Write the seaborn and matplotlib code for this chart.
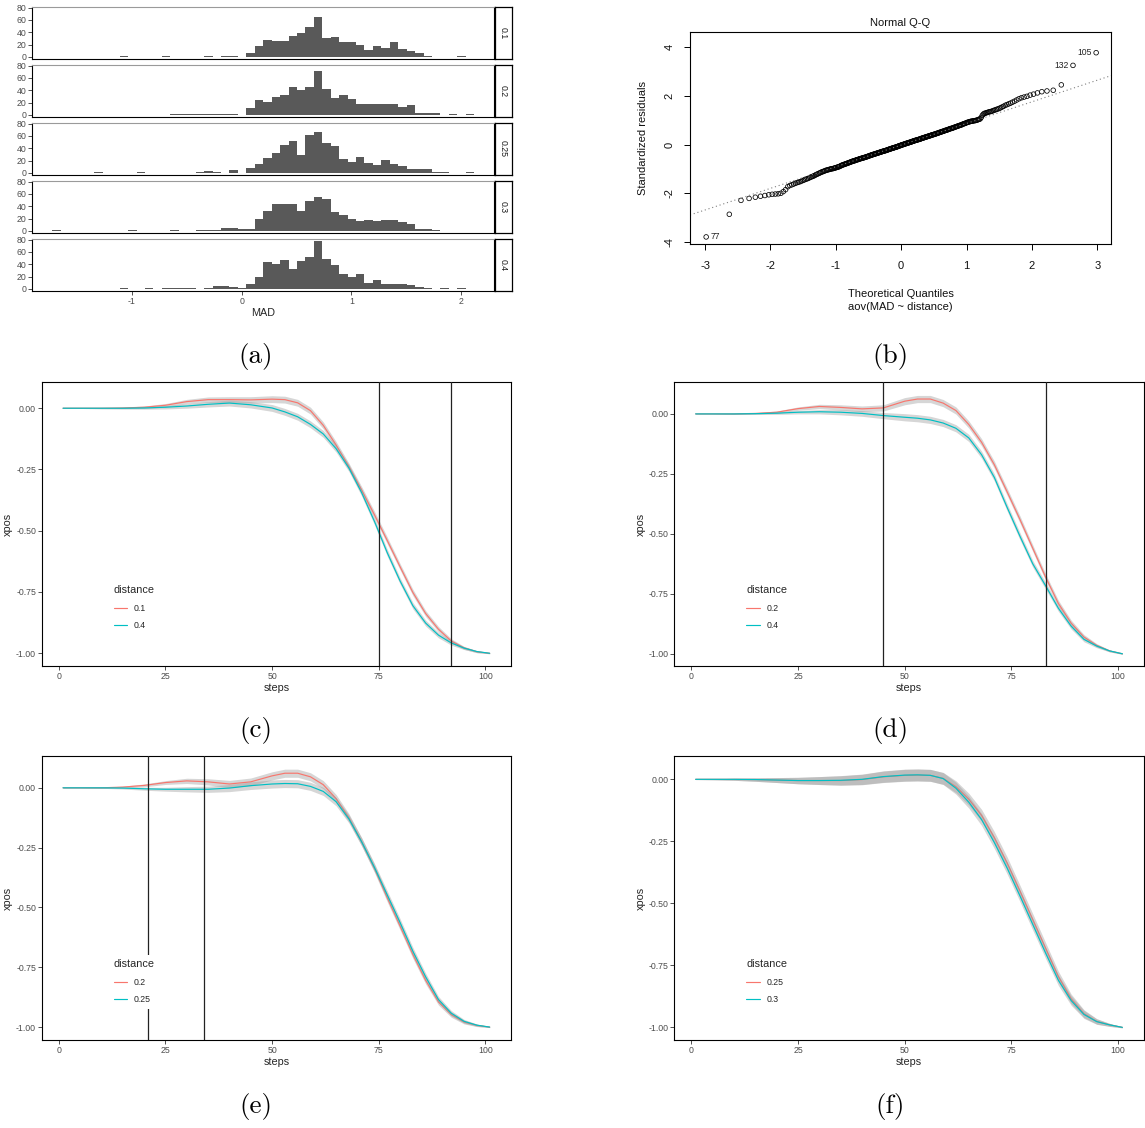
"""
Composite figure: MAD histograms per distance, normal Q-Q of the aov residuals,
and smoothed xpos trajectories for four pairs of distances.
"""
import statistics

import numpy as np
import pandas as pd
import matplotlib
matplotlib.use("Agg")
import matplotlib.pyplot as plt
import seaborn as sns

sns.set_theme(style="white")
plt.rcParams["font.family"] = ["Liberation Sans", "DejaVu Sans"]
plt.rcParams["axes.unicode_minus"] = False

# ==============================================================
# DATA
# ==============================================================
# (a) histogram counts, bins are BIN_W wide, bin index -23 .. 26
BIN_START = 0.043
BIN_W = 0.0769
BIN_IDX = list(range(-23, 27))
DISTANCES = ["0.1", "0.2", "0.25", "0.3", "0.4"]
COUNTS_D01 = [0, 0, 0, 0, 0, 0, 0, 0, 1, 0, 0, 0, 0, 1, 0, 0, 0, 0, 2, 0, 2, 2, 0,
              6, 17, 27, 26, 26, 34, 39, 49, 64, 31, 32, 24, 24, 20, 11, 18, 14, 24,
              12, 10, 7, 2, 0, 0, 0, 1, 0]
COUNTS_D02 = [0, 0, 0, 0, 0, 0, 0, 0, 0, 0, 0, 0, 0, 0, 1, 2, 1, 1, 2, 2, 1, 1, 0,
              11, 24, 21, 29, 33, 46, 40, 46, 71, 42, 27, 32, 26, 17, 18, 18, 17, 17,
              13, 16, 3, 3, 3, 0, 2, 0, 1]
COUNTS_D025 = [0, 0, 0, 0, 0, 1, 0, 0, 0, 0, 1, 0, 0, 0, 0, 0, 0, 2, 3, 2, 0, 5, 0,
               8, 15, 24, 33, 45, 51, 29, 62, 67, 49, 44, 23, 17, 25, 16, 12, 21, 14,
               11, 7, 7, 7, 1, 2, 0, 0, 1]
COUNTS_D03 = [1, 0, 0, 0, 0, 0, 0, 0, 0, 1, 0, 0, 0, 0, 1, 0, 0, 2, 2, 1, 4, 5, 3,
              3, 20, 32, 44, 43, 44, 32, 49, 55, 52, 30, 26, 20, 16, 18, 16, 17, 17,
              14, 11, 3, 3, 2, 0, 0, 0, 0]
COUNTS_D04 = [0, 0, 0, 0, 0, 0, 0, 0, 1, 0, 0, 1, 0, 1, 1, 1, 1, 0, 1, 5, 5, 3, 2,
              8, 19, 43, 41, 47, 33, 45, 51, 77, 48, 38, 24, 19, 24, 9, 15, 8, 8,
              8, 6, 3, 2, 0, 1, 0, 1, 0]
HIST_TICKS = [-1, 0, 1, 2]
COUNT_TICKS = [0, 20, 40, 60, 80]

# (b) sorted standardized residuals of aov(MAD ~ distance)
RESID = [
    -3.79, -2.86, -2.29, -2.21, -2.16, -2.12, -2.09, -2.06, -2.04, -2.03,
    -2.02, -2.00, -1.93, -1.85, -1.73, -1.68, -1.65, -1.62, -1.59, -1.56,
    -1.54, -1.52, -1.49, -1.47, -1.44, -1.42, -1.40, -1.38, -1.35, -1.33,
    -1.31, -1.29, -1.27, -1.24, -1.22, -1.20, -1.18, -1.16, -1.14, -1.12,
    -1.11, -1.09, -1.08, -1.06, -1.05, -1.04, -1.03, -1.02, -1.01, -1.00,
    -0.99, -0.99, -0.98, -0.97, -0.96, -0.95, -0.94, -0.93, -0.92, -0.91,
    -0.90, -0.88, -0.87, -0.85, -0.84, -0.83, -0.82, -0.81, -0.80, -0.79,
    -0.78, -0.77, -0.76, -0.75, -0.74, -0.73, -0.72, -0.71, -0.70, -0.69,
    -0.68, -0.67, -0.67, -0.66, -0.65, -0.64, -0.63, -0.62, -0.62, -0.61,
    -0.60, -0.59, -0.58, -0.58, -0.57, -0.56, -0.56, -0.55, -0.54, -0.54,
    -0.53, -0.52, -0.52, -0.51, -0.50, -0.49, -0.49, -0.48, -0.47, -0.46,
    -0.45, -0.45, -0.44, -0.43, -0.42, -0.42, -0.41, -0.40, -0.40, -0.39,
    -0.38, -0.38, -0.37, -0.36, -0.36, -0.35, -0.34, -0.34, -0.33, -0.32,
    -0.32, -0.31, -0.30, -0.30, -0.29, -0.28, -0.28, -0.27, -0.27, -0.26,
    -0.25, -0.25, -0.24, -0.24, -0.23, -0.22, -0.21, -0.21, -0.20, -0.19,
    -0.19, -0.18, -0.17, -0.17, -0.16, -0.15, -0.15, -0.14, -0.14, -0.13,
    -0.12, -0.12, -0.11, -0.11, -0.10, -0.09, -0.09, -0.08, -0.07, -0.06,
    -0.06, -0.05, -0.04, -0.04, -0.03, -0.02, -0.01, -0.01, 0.00, 0.00,
    0.01, 0.02, 0.02, 0.03, 0.04, 0.04, 0.05, 0.06, 0.06, 0.07,
    0.07, 0.08, 0.09, 0.09, 0.10, 0.10, 0.11, 0.12, 0.13, 0.13,
    0.14, 0.15, 0.15, 0.16, 0.17, 0.17, 0.18, 0.18, 0.19, 0.20,
    0.20, 0.21, 0.21, 0.22, 0.23, 0.23, 0.24, 0.25, 0.26, 0.26,
    0.27, 0.28, 0.28, 0.29, 0.30, 0.30, 0.31, 0.32, 0.32, 0.33,
    0.34, 0.34, 0.35, 0.36, 0.36, 0.37, 0.38, 0.39, 0.39, 0.40,
    0.41, 0.41, 0.42, 0.43, 0.43, 0.44, 0.45, 0.46, 0.46, 0.47,
    0.48, 0.49, 0.50, 0.50, 0.51, 0.52, 0.53, 0.54, 0.54, 0.55,
    0.56, 0.57, 0.58, 0.59, 0.59, 0.60, 0.61, 0.62, 0.63, 0.64,
    0.65, 0.66, 0.66, 0.67, 0.68, 0.69, 0.70, 0.71, 0.72, 0.73,
    0.74, 0.75, 0.76, 0.77, 0.78, 0.79, 0.80, 0.81, 0.82, 0.84,
    0.85, 0.86, 0.87, 0.88, 0.90, 0.91, 0.92, 0.93, 0.94, 0.95,
    0.96, 0.96, 0.97, 0.98, 0.98, 0.99, 1.00, 1.01, 1.03, 1.04,
    1.06, 1.12, 1.20, 1.25, 1.28, 1.29, 1.31, 1.32, 1.34, 1.35,
    1.36, 1.38, 1.40, 1.42, 1.44, 1.46, 1.48, 1.51, 1.54, 1.57,
    1.61, 1.64, 1.67, 1.70, 1.74, 1.78, 1.83, 1.88, 1.92, 1.95,
    1.98, 2.03, 2.07, 2.12, 2.17, 2.20, 2.23, 2.45, 3.25, 3.77,
]
# observation ids of the flagged points: (rank in sorted residuals, id)
QQ_FLAGS = [(0, "77"), (348, "132"), (349, "105")]
QQ_XTICKS = [-3, -2, -1, 0, 1, 2, 3]
QQ_YTICKS = [-4, -2, 0, 2, 4]

# (c)-(f) smoothed xpos per step
STEPS = [1, 5, 10, 15, 20, 25, 30, 35, 40, 45, 50, 53, 56, 59, 62, 65, 68, 71, 74,
         77, 80, 83, 86, 89, 92, 95, 98, 101]

C_D01 = [0, 0, 0, 0.001, 0.004, 0.012, 0.027, 0.035, 0.035, 0.034, 0.037, 0.035, 0.022,
         -0.01, -0.07, -0.15, -0.238, -0.334, -0.435, -0.54, -0.647, -0.752, -0.838,
         -0.902, -0.95, -0.978, -0.994, -1.0]
C_D04 = [0, 0, 0, 0, 0.001, 0.004, 0.009, 0.016, 0.021, 0.014, 0.001, -0.015, -0.035,
         -0.066, -0.105, -0.165, -0.244, -0.345, -0.462, -0.59, -0.705, -0.806, -0.877,
         -0.926, -0.958, -0.979, -0.993, -1.0]
C_BAND = [0.001, 0.001, 0.002, 0.003, 0.005, 0.007, 0.009, 0.011, 0.012, 0.013, 0.014,
          0.014, 0.014, 0.014, 0.014, 0.014, 0.014, 0.014, 0.014, 0.014, 0.013, 0.013,
          0.012, 0.011, 0.009, 0.006, 0.004, 0.002]

D_D02 = [0, 0, 0, 0.002, 0.007, 0.022, 0.031, 0.027, 0.021, 0.025, 0.053, 0.062, 0.062,
         0.045, 0.014, -0.044, -0.118, -0.212, -0.325, -0.44, -0.56, -0.68, -0.79,
         -0.872, -0.93, -0.965, -0.988, -1.0]
D_D04 = [0, 0, 0, 0.001, 0.003, 0.007, 0.009, 0.007, 0.002, -0.007, -0.014, -0.018,
         -0.025, -0.038, -0.06, -0.10, -0.17, -0.265, -0.39, -0.51, -0.625, -0.716,
         -0.81, -0.885, -0.94, -0.968, -0.988, -1.0]
D_BAND = [0.001, 0.001, 0.002, 0.003, 0.005, 0.007, 0.009, 0.011, 0.012, 0.013, 0.015,
          0.015, 0.015, 0.015, 0.015, 0.015, 0.015, 0.015, 0.015, 0.015, 0.014, 0.014,
          0.013, 0.012, 0.010, 0.007, 0.004, 0.002]

E_D02 = [0, 0, 0, 0.003, 0.01, 0.022, 0.029, 0.025, 0.016, 0.025, 0.05, 0.061, 0.061,
         0.046, 0.013, -0.045, -0.125, -0.226, -0.337, -0.46, -0.578, -0.697, -0.805,
         -0.895, -0.948, -0.979, -0.993, -1.0]
E_D025 = [0, 0, 0, -0.001, -0.004, -0.006, -0.006, -0.006, -0.001, 0.009, 0.016, 0.018,
          0.017, 0.006, -0.015, -0.058, -0.13, -0.226, -0.333, -0.448, -0.563, -0.683,
          -0.79, -0.885, -0.942, -0.976, -0.992, -1.0]
E_BAND = [0.001, 0.001, 0.002, 0.004, 0.006, 0.008, 0.011, 0.013, 0.015, 0.016, 0.017,
          0.017, 0.017, 0.017, 0.017, 0.017, 0.017, 0.017, 0.017, 0.017, 0.016, 0.016,
          0.015, 0.013, 0.011, 0.008, 0.005, 0.002]

F_D025 = [0, 0, 0, -0.001, -0.003, -0.005, -0.005, -0.005, -0.001, 0.01, 0.016, 0.017,
          0.016, 0.004, -0.03, -0.08, -0.145, -0.235, -0.337, -0.45, -0.565, -0.68,
          -0.795, -0.885, -0.945, -0.976, -0.99, -1.0]
F_D03 = [0, 0, 0, -0.001, -0.003, -0.005, -0.005, -0.004, 0.0, 0.011, 0.017, 0.018,
         0.016, 0.003, -0.036, -0.092, -0.162, -0.255, -0.358, -0.47, -0.585, -0.70,
         -0.81, -0.892, -0.948, -0.977, -0.99, -1.0]
F_BAND = [0.001, 0.002, 0.004, 0.007, 0.010, 0.013, 0.016, 0.019, 0.021, 0.023, 0.024,
          0.024, 0.024, 0.024, 0.024, 0.024, 0.024, 0.024, 0.024, 0.023, 0.023, 0.022,
          0.021, 0.019, 0.016, 0.011, 0.006, 0.002]

STEP_TICKS = [0, 25, 50, 75, 100]
XPOS_TICKS = [0.0, -0.25, -0.5, -0.75, -1.0]
XPOS_LABELS = ["0.00", "-0.25", "-0.50", "-0.75", "-1.00"]

# ==============================================================
# STYLE
# ==============================================================
W, H = 1145, 1128
RED, TEAL = "#F8766D", "#00BFC4"
HIST_GREY = "#595959"
TICK_FS, TITLE_FS = 6.3, 7.8

fig = plt.figure(figsize=(W / 100, H / 100), dpi=100)


def px_axes(x0, y0, x1, y1):
    """Axes from a pixel box (top-left origin)."""
    return fig.add_axes([x0 / W, 1 - y1 / H, (x1 - x0) / W, (y1 - y0) / H])


def gg_ticks(ax):
    ax.tick_params(axis="both", direction="out", length=2.6, width=0.6, pad=1.5,
                   color="#333333", labelsize=TICK_FS, labelcolor="#4D4D4D",
                   bottom=True, left=True)


# ==============================================================
# (a) HISTOGRAMS
# ==============================================================
edges = [float(e) for e in BIN_START + BIN_W * np.arange(BIN_IDX[0], BIN_IDX[-1] + 2)]
centers = [e + BIN_W / 2 for e in edges[:-1]]
facet_rows = [(7, 59), (65, 117), (123, 175), (181, 233), (239, 291)]
all_counts = [COUNTS_D01, COUNTS_D02, COUNTS_D025, COUNTS_D03, COUNTS_D04]

for k, (dist, counts, (y0, y1)) in enumerate(zip(DISTANCES, all_counts, facet_rows)):
    ax = px_axes(32, y0, 494, y1)
    hist_df = pd.DataFrame({"MAD": centers, "n": counts})
    sns.histplot(data=hist_df, x="MAD", weights="n", bins=edges, color=HIST_GREY,
                 alpha=1, linewidth=0, ax=ax)
    ax.set_xlim(-1.91, 2.30)
    ax.set_ylim(-3.5, 81)
    ax.set_yticks(COUNT_TICKS)
    ax.set_ylabel("")
    gg_ticks(ax)
    for side in ("left", "bottom", "right"):
        ax.spines[side].set_color("black")
        ax.spines[side].set_linewidth(0.8)
    ax.spines["top"].set_color("#9a9a9a")
    ax.spines["top"].set_linewidth(0.8)
    if k == len(DISTANCES) - 1:
        ax.set_xticks(HIST_TICKS)
        ax.set_xlabel("MAD", fontsize=TITLE_FS, labelpad=1.5)
    else:
        ax.set_xticks([])
        ax.set_xlabel("")

    strip = px_axes(495, y0, 512, y1)
    strip.set_xticks([])
    strip.set_yticks([])
    strip.set_facecolor("white")
    for sp in strip.spines.values():
        sp.set_color("black")
        sp.set_linewidth(0.9)
    strip.text(0.5, 0.5, dist, rotation=-90, ha="center", va="center",
               fontsize=TICK_FS, color="#1A1A1A", transform=strip.transAxes)

# ==============================================================
# (b) NORMAL Q-Q
# ==============================================================
nd = statistics.NormalDist()
resid = sorted(RESID)
n = len(resid)
theo = [nd.inv_cdf((i - 0.5) / n) for i in range(1, n + 1)]

ax = px_axes(690, 32, 1111, 244)
sns.scatterplot(x=theo, y=resid, marker="o", s=11, facecolor="none",
                edgecolor="black", linewidth=0.55, ax=ax)
qy = np.quantile(resid, [0.25, 0.75])
qx = [nd.inv_cdf(0.25), nd.inv_cdf(0.75)]
slope = (qy[1] - qy[0]) / (qx[1] - qx[0])
ax.axline((0, qy[0] - slope * qx[0]), slope=slope, color="#808080",
          linestyle=(0, (1, 2.5)), linewidth=0.8)
for idx, label in QQ_FLAGS:
    right = theo[idx] > 0
    ax.annotate(label, (theo[idx], resid[idx]), xytext=(-3 if right else 3, 0),
                textcoords="offset points", ha="right" if right else "left",
                va="center", fontsize=6.2, color="#222222")
ax.set_xlim(-3.23, 3.21)
ax.set_ylim(-4.08, 4.62)
ax.set_xticks(QQ_XTICKS)
ax.set_yticks(QQ_YTICKS)
ax.tick_params(axis="both", direction="out", length=4, width=0.7, color="black",
               labelsize=8, labelcolor="#111111", bottom=True, left=True)
ax.tick_params(axis="x", pad=8)
ax.tick_params(axis="y", pad=7, labelrotation=90)
for lab in ax.get_yticklabels():
    lab.set_va("center")
for sp in ax.spines.values():
    sp.set_color("black")
    sp.set_linewidth(0.8)
ax.set_title("Normal Q-Q", fontsize=8, pad=4, color="#111111")
ax.set_xlabel("Theoretical Quantiles\naov(MAD ~ distance)", fontsize=8,
              labelpad=13, linespacing=1.4, color="#111111")
ax.set_ylabel("Standardized residuals", fontsize=8, labelpad=12, color="#111111")


# ==============================================================
# (c)-(f) SMOOTHED TRAJECTORIES
# ==============================================================
def line_panel(box, first, second, labels, band, vlines, ylim, legend_xy):
    ax = px_axes(*box)
    df = pd.DataFrame({
        "steps": STEPS * 2,
        "xpos": first + second,
        "distance": [labels[0]] * len(STEPS) + [labels[1]] * len(STEPS),
    })
    sns.lineplot(data=df, x="steps", y="xpos", hue="distance", hue_order=labels,
                 palette=[RED, TEAL], linewidth=0.85, estimator=None, ax=ax)
    band = np.array(band)
    for z, vals in ((2, first), (4, second)):
        vals = np.array(vals)
        ax.fill_between(STEPS, vals - band, vals + band, color="#999999", alpha=0.4,
                        linewidth=0, zorder=z)
    ax.lines[0].set_zorder(3)
    ax.lines[1].set_zorder(5)
    for v in vlines:
        ax.axvline(v, color="#222222", linewidth=0.9, zorder=6)
    ax.set_xlim(-4, 106)
    ax.set_ylim(*ylim)
    ax.set_xticks(STEP_TICKS)
    ax.set_yticks(XPOS_TICKS)
    ax.set_yticklabels(XPOS_LABELS)
    gg_ticks(ax)
    for sp in ax.spines.values():
        sp.set_color("black")
        sp.set_linewidth(0.8)
    ax.set_xlabel("steps", fontsize=TITLE_FS, labelpad=1.5)
    ax.set_ylabel("xpos", fontsize=TITLE_FS, labelpad=2)
    sns.move_legend(ax, "upper left", bbox_to_anchor=legend_xy, title="distance",
                    frameon=True, facecolor="white", edgecolor="none", framealpha=1,
                    fontsize=TICK_FS, title_fontsize=TITLE_FS, handlelength=1.5,
                    handletextpad=0.8, labelspacing=0.95, borderpad=0.55,
                    alignment="left", fancybox=False)
    ax.get_legend().set_zorder(10)
    return ax


line_panel((41.7, 382, 511, 666), C_D01, C_D04, ["0.1", "0.4"], C_BAND, [75, 92],
           (-1.052, 0.107), (0.134, 0.316))
line_panel((674.3, 382, 1143.7, 666), D_D02, D_D04, ["0.2", "0.4"], D_BAND, [45, 83],
           (-1.051, 0.133), (0.134, 0.316))
line_panel((41.7, 756, 511, 1040), E_D02, E_D025, ["0.2", "0.25"], E_BAND, [21, 34],
           (-1.054, 0.133), (0.134, 0.316))
line_panel((674.3, 756, 1143.7, 1040), F_D025, F_D03, ["0.25", "0.3"], F_BAND, [],
           (-1.051, 0.094), (0.134, 0.316))

# sub-figure captions
for lbl, (cx, cy) in zip(["(a)", "(b)", "(c)", "(d)", "(e)", "(f)"],
                         [(256, 356), (890, 356), (256, 731), (890, 731),
                          (256, 1106), (890, 1106)]):
    fig.text(cx / W, 1 - cy / H, lbl, ha="center", va="center", fontsize=19.5,
             fontfamily="cmr10", color="black")

fig.savefig("out.png", dpi=100)
